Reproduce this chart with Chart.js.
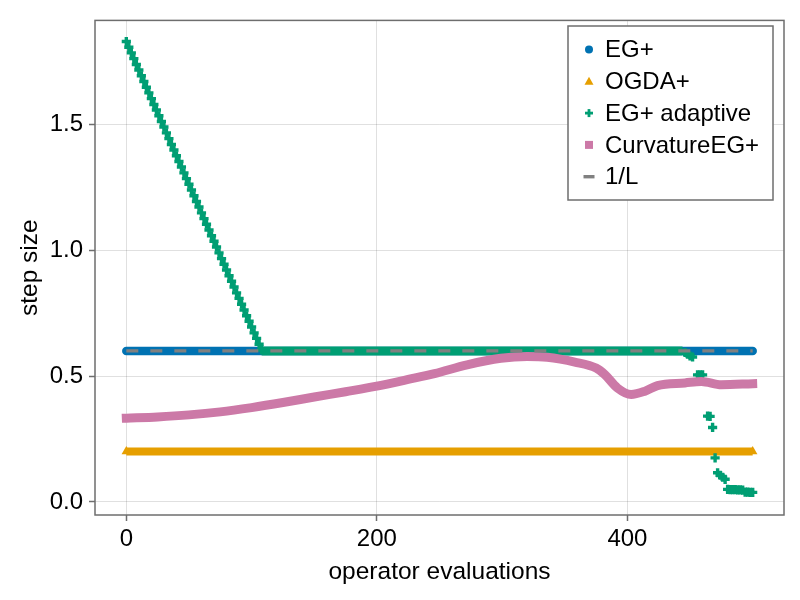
<!DOCTYPE html>
<html>
<head>
<meta charset="utf-8">
<script src="https://cdn.jsdelivr.net/npm/chart.js@4.4.1/dist/chart.umd.min.js"></script>
<style>
  body { margin: 0; background: #fff; }
  #wrap { width: 800px; height: 600px; }
</style>
</head>
<body>
<div id="wrap"><canvas id="stepsize_graph"></canvas></div>
<script>
const FONT = '"Liberation Sans", Arial, Helvetica, sans-serif';

// ---------- data ----------
const seriesNames = ['EG+', 'OGDA+', 'EG+ adaptive', 'CurvatureEG+', '1/L'];

const egPlusX = [0, 500];
const egPlusY = [0.6, 0.6];

const ogdaX = [0, 500];
const ogdaY = [0.2, 0.2];

// adaptive: single markers on the slope and in the tail
const adaptiveX = [0, 2, 4, 6, 8, 10, 12, 14, 16, 18, 20, 22, 24, 26, 28, 30, 32, 34, 36, 38,
    40, 42, 44, 46, 48, 50, 52, 54, 56, 58, 60, 62, 64, 66, 68, 70, 72, 74, 76, 78,
    80, 82, 84, 86, 88, 90, 92, 94, 96, 98, 100, 102, 104, 106, 108,
    446, 448, 450, 452, 456, 458, 460, 464, 466, 468, 470, 472, 474, 476, 478,
    480, 482, 484, 486, 488, 490, 492, 494, 496, 498, 500];
const adaptiveY = [1.830, 1.807, 1.785, 1.762, 1.739, 1.717, 1.694, 1.671, 1.648, 1.626,
    1.603, 1.580, 1.558, 1.535, 1.512, 1.490, 1.467, 1.444, 1.421, 1.399,
    1.376, 1.353, 1.331, 1.308, 1.285, 1.263, 1.240, 1.217, 1.194, 1.172,
    1.149, 1.126, 1.104, 1.081, 1.058, 1.036, 1.013, 0.990, 0.967, 0.945,
    0.922, 0.899, 0.877, 0.854, 0.831, 0.809, 0.786, 0.763, 0.740, 0.718,
    0.695, 0.672, 0.650, 0.627, 0.604,
    0.594, 0.587, 0.580, 0.576, 0.505, 0.505, 0.505, 0.341, 0.340, 0.296, 0.175, 0.116, 0.106, 0.098, 0.090,
    0.050, 0.049, 0.049, 0.049, 0.048, 0.048, 0.047, 0.039, 0.039, 0.038, 0.038];
// adaptive: the stretch where the markers merge into a band
const adaptiveFlatX = [108, 444];
const adaptiveFlatY = [0.6, 0.6];

const curvatureX = [0, 25, 50, 75, 100, 125, 150, 175, 200, 225, 246, 272, 299, 320, 336,
    358, 375, 382, 392, 403, 414, 424, 446, 459, 475, 500];
const curvatureY = [0.333, 0.338, 0.346, 0.358, 0.375, 0.395, 0.417, 0.438, 0.460, 0.487,
    0.510, 0.545, 0.571, 0.578, 0.575, 0.556, 0.532, 0.506, 0.453, 0.427, 0.440,
    0.462, 0.473, 0.479, 0.466, 0.470];

const invLX = [0, 500];
const invLY = [0.6, 0.6];

const xTicks = [0, 200, 400];
const yTicks = [0.0, 0.5, 1.0, 1.5];

// ---------- helpers ----------
const pts = (xs, ys) => xs.map((x, i) => ({ x: x, y: ys[i] }));

const blue = '#0072B2';
const orange = '#E69F00';
const green = '#009E73';
const pink = '#CC79A7';
const gray = '#808080';
const frameColor = '#6e6e6e';

// frame around the plot + legend box in the upper right
const framePlugin = {
    id: 'frame',
    afterDraw(chart) {
        const { ctx, chartArea } = chart;
        ctx.save();
        ctx.strokeStyle = frameColor;
        ctx.lineWidth = 1.5;
        ctx.strokeRect(chartArea.left, chartArea.top, chartArea.right - chartArea.left, chartArea.bottom - chartArea.top);

        // legend
        const bx = 568, by = 26, bw = 205, bh = 174;
        ctx.fillStyle = '#fff';
        ctx.fillRect(bx, by, bw, bh);
        ctx.strokeRect(bx, by, bw, bh);
        const mx = 589, tx = 605, rowTop = 49.5, rowGap = 31.8;
        ctx.font = '24px ' + FONT;
        ctx.textBaseline = 'middle';
        ctx.textAlign = 'left';
        seriesNames.forEach((name, i) => {
            const y = rowTop + i * rowGap;
            ctx.beginPath();
            if (i === 0) {
                ctx.fillStyle = blue;
                ctx.arc(mx, y, 4, 0, Math.PI * 2);
                ctx.fill();
            } else if (i === 1) {
                ctx.fillStyle = orange;
                ctx.moveTo(mx, y - 4.5);
                ctx.lineTo(mx + 4.5, y + 3.5);
                ctx.lineTo(mx - 4.5, y + 3.5);
                ctx.closePath();
                ctx.fill();
            } else if (i === 2) {
                ctx.fillStyle = green;
                ctx.fillRect(mx - 4, y - 1.4, 8, 2.8);
                ctx.fillRect(mx - 1.4, y - 4, 2.8, 8);
            } else if (i === 3) {
                ctx.fillStyle = pink;
                ctx.fillRect(mx - 4, y - 4, 8, 8);
            } else {
                ctx.fillStyle = gray;
                ctx.fillRect(mx - 5.5, y - 1.7, 11, 3.4);
            }
            ctx.fillStyle = '#000';
            ctx.fillText(name, tx, y + 1);
        });
        ctx.restore();
    }
};

const ctx = document.getElementById('stepsize_graph');

const stepChart = new Chart(ctx,
    {
        type: 'line',
        data:
        {
            datasets:
            [
                {
                    label: seriesNames[0],
                    data: pts(egPlusX, egPlusY),
                    borderColor: blue,
                    borderWidth: 8.5,
                    borderCapStyle: 'round',
                    pointRadius: 0,
                    order: 6
                },
                {
                    label: seriesNames[1],
                    data: pts(ogdaX, ogdaY),
                    borderColor: orange,
                    backgroundColor: orange,
                    borderWidth: 8,
                    pointStyle: 'triangle',
                    pointRadius: 5.5,
                    pointBorderWidth: 0,
                    order: 5
                },
                {
                    label: seriesNames[2] + ' band',
                    data: pts(adaptiveFlatX, adaptiveFlatY),
                    borderColor: green,
                    borderWidth: 9,
                    pointRadius: 0,
                    order: 4
                },
                {
                    label: seriesNames[2],
                    data: pts(adaptiveX, adaptiveY),
                    showLine: false,
                    borderColor: green,
                    backgroundColor: green,
                    pointStyle: 'cross',
                    pointRadius: 4.6,
                    pointBorderWidth: 3.4,
                    order: 3
                },
                {
                    label: seriesNames[3],
                    data: pts(curvatureX, curvatureY),
                    borderColor: pink,
                    borderWidth: 9,
                    borderCapStyle: 'square',
                    borderJoinStyle: 'round',
                    cubicInterpolationMode: 'monotone',
                    pointRadius: 0,
                    order: 2
                },
                {
                    label: seriesNames[4],
                    data: pts(invLX, invLY),
                    borderColor: gray,
                    borderWidth: 3.3,
                    borderDash: [12, 12],
                    pointRadius: 0,
                    order: 1
                }
            ]
        },
        options:
        {
            responsive: true,
            maintainAspectRatio: false,
            animation: false,
            devicePixelRatio: 1,
            layout: { padding: { left: 0, top: 16, right: 16, bottom: 0 } },
            plugins:
            {
                legend: { display: false },
                tooltip: { enabled: false }
            },
            scales:
            {
                x:
                {
                    type: 'linear',
                    min: -25,
                    max: 525,
                    afterFit: (scale) => { scale.height = 85; },
                    afterBuildTicks: (scale) => { scale.ticks = xTicks.map(v => ({ value: v })); },
                    ticks:
                    {
                        font: { size: 24, family: FONT },
                        color: '#000',
                        padding: 4,
                        maxRotation: 0,
                        callback: (v) => String(v)
                    },
                    grid: { color: 'rgba(0,0,0,0.12)', lineWidth: 1, tickLength: 6, tickColor: frameColor, tickWidth: 1.5 },
                    border: { display: false },
                    title:
                    {
                        display: true,
                        text: 'operator evaluations',
                        font: { size: 24.5, family: FONT },
                        color: '#000',
                        padding: { top: 0, bottom: 13 }
                    }
                },
                y:
                {
                    type: 'linear',
                    min: -0.052,
                    max: 1.914,
                    afterFit: (scale) => { scale.width = 95; },
                    afterBuildTicks: (scale) => { scale.ticks = yTicks.map(v => ({ value: v })); },
                    ticks:
                    {
                        font: { size: 24, family: FONT },
                        color: '#000',
                        padding: 6,
                        callback: (v) => v.toFixed(1)
                    },
                    grid: { color: 'rgba(0,0,0,0.12)', lineWidth: 1, tickLength: 6, tickColor: frameColor, tickWidth: 1.5 },
                    border: { display: false },
                    title:
                    {
                        display: true,
                        text: 'step size',
                        font: { size: 24.5, family: FONT },
                        color: '#000',
                        padding: { top: 16, bottom: 0 }
                    }
                }
            }
        },
        plugins: [framePlugin]
    })
</script>
</body>
</html>
